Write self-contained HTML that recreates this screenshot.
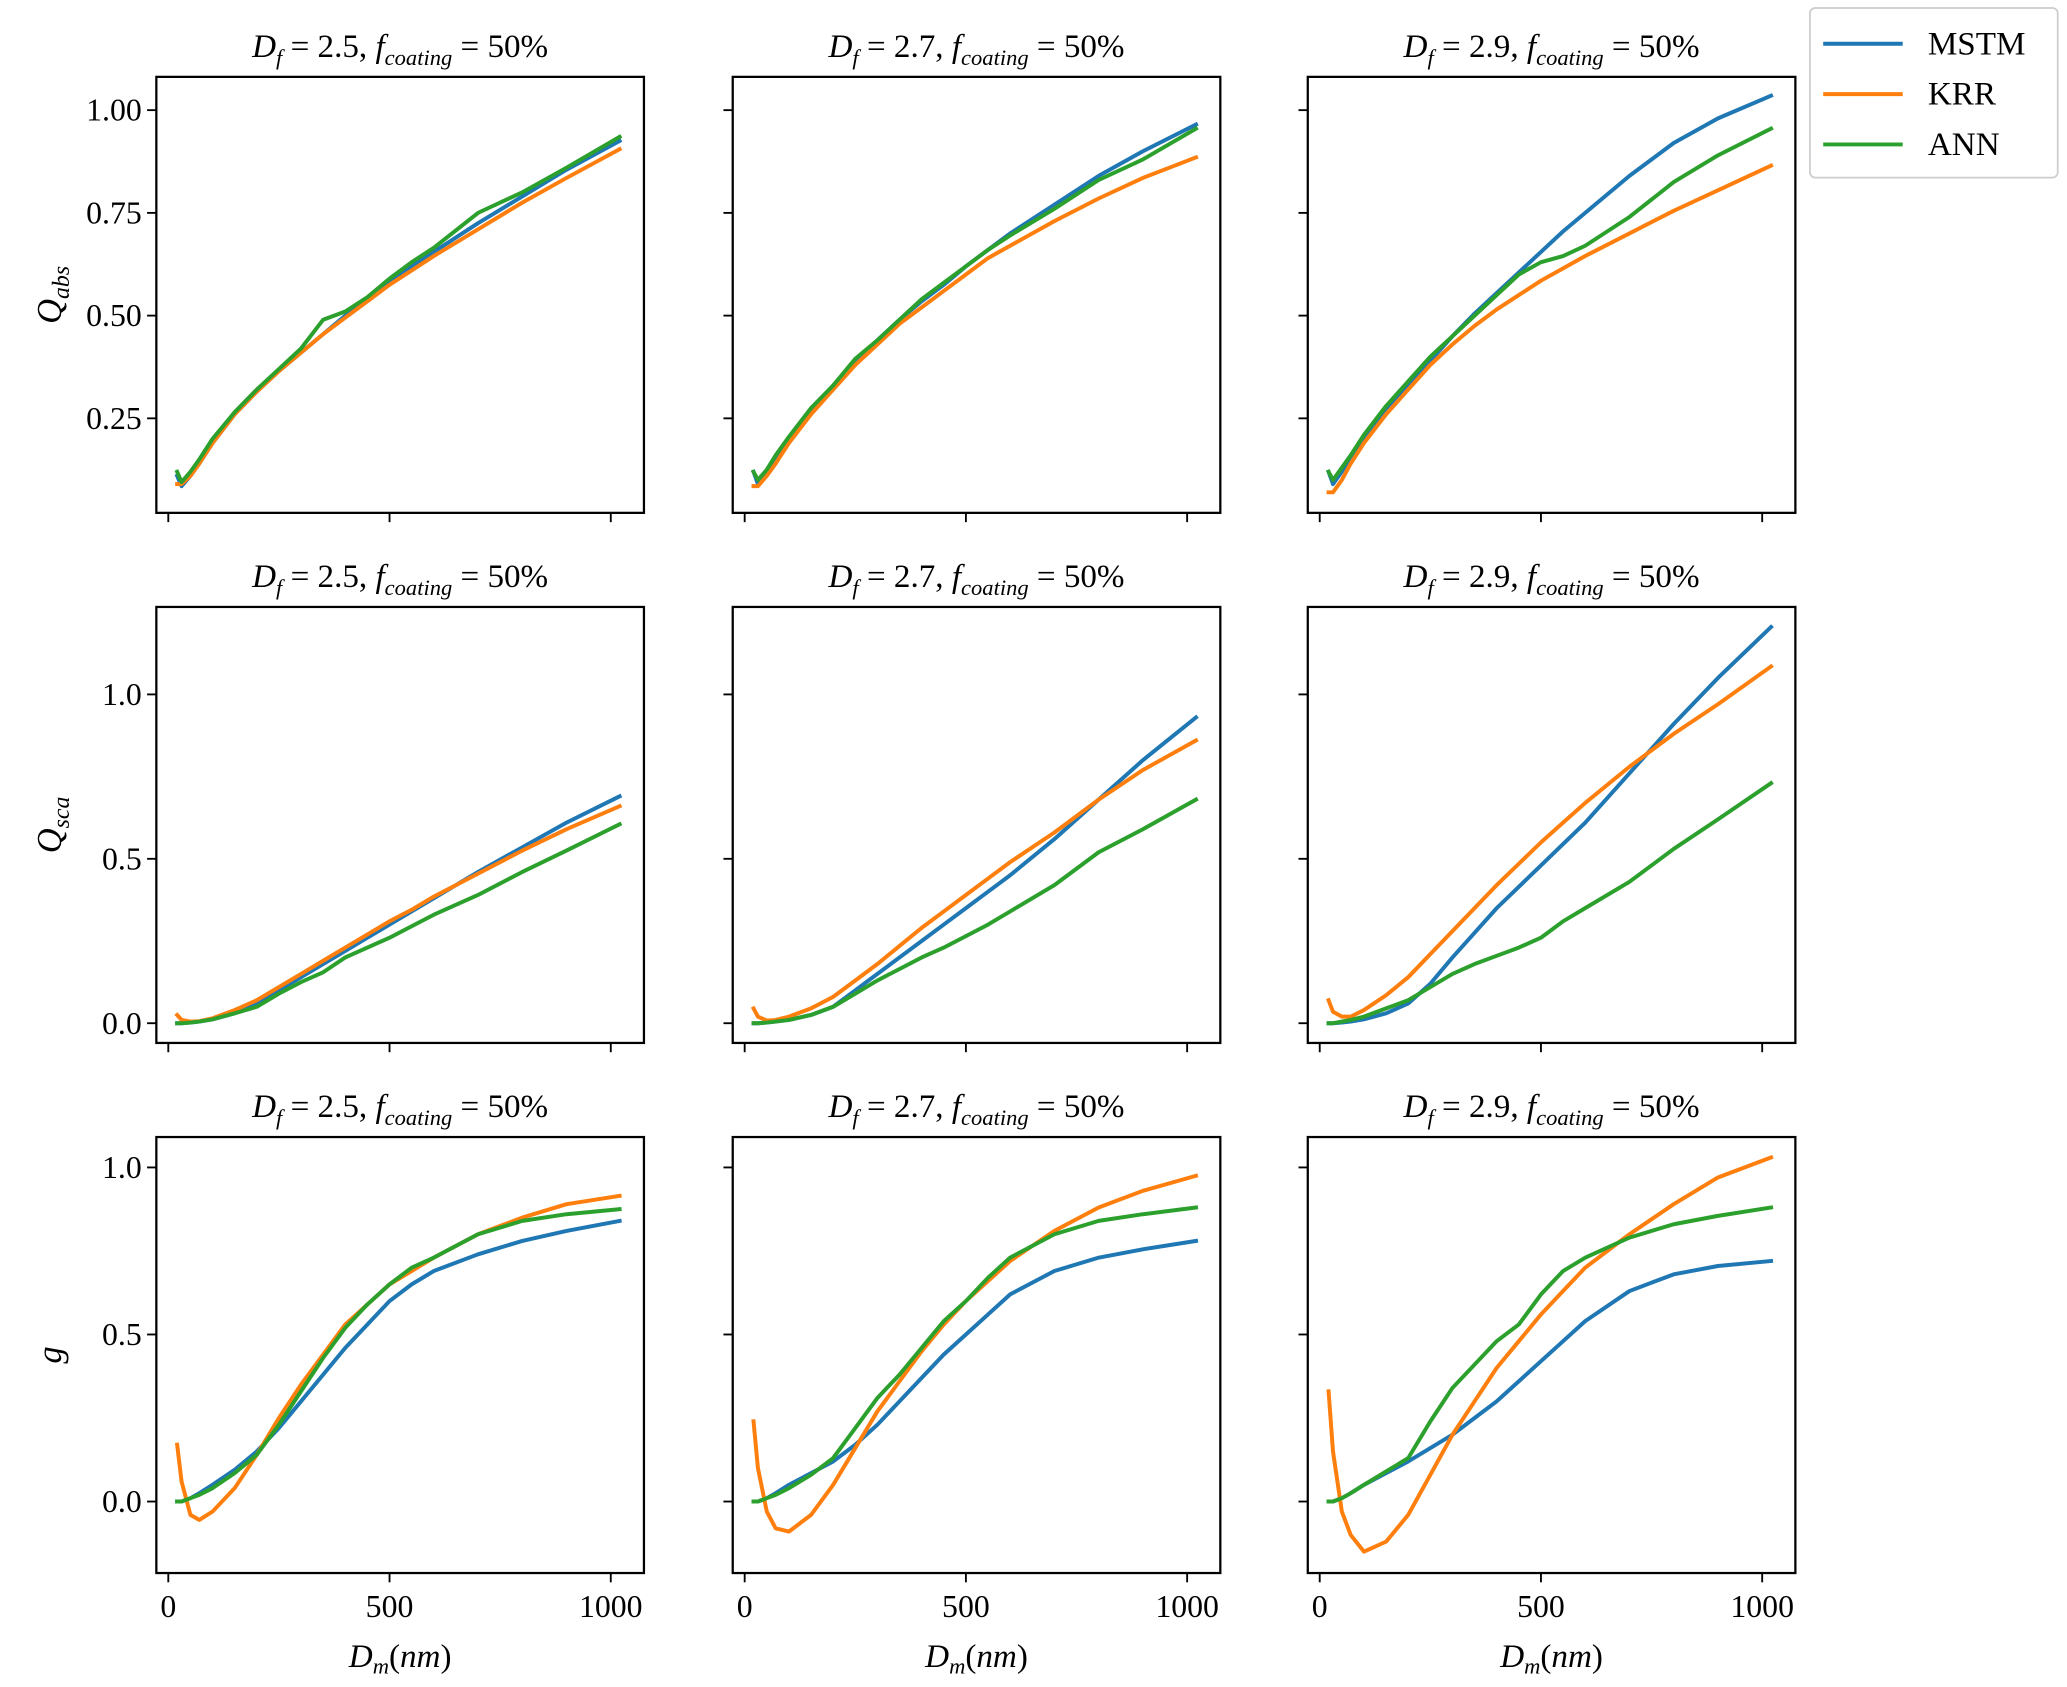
<!DOCTYPE html>
<html><head><meta charset="utf-8"><style>
html,body{margin:0;padding:0;background:#fff}
svg{display:block}
text{font-family:"Liberation Serif",serif;fill:#000}
</style></head><body>
<svg id="fig" xmlns="http://www.w3.org/2000/svg" width="2067" height="1687" viewBox="0 0 1560 1273" preserveAspectRatio="none"></svg>
<script>
const xs = [20,30,50,70,100,150,200,250,300,350,400,450,500,550,600,700,800,900,1020];
const seriesNames = ["MSTM","KRR","ANN"];
const dfLabels = ["2.5","2.7","2.9"];
const xTicks = [0,500,1000];
const yTicksQabs = [0.25,0.5,0.75,1.0];
const yTickLabelsQabs = ["0.25","0.50","0.75","1.00"];
const yTicksQsca = [0,0.5,1.0];
const yTickLabelsQsca = ["0.0","0.5","1.0"];
const yTicksG = [0,0.5,1.0];
const yTickLabelsG = ["0.0","0.5","1.0"];
// Qabs
const qabs25_mstm=[0.11,0.085,0.11,0.14,0.19,0.26,0.315,0.365,0.41,0.455,0.5,0.54,0.58,0.62,0.655,0.725,0.79,0.855,0.925];
const qabs25_krr=[0.09,0.09,0.11,0.14,0.19,0.26,0.315,0.365,0.41,0.455,0.495,0.535,0.575,0.61,0.645,0.71,0.775,0.835,0.905];
const qabs25_ann=[0.12,0.095,0.12,0.15,0.2,0.265,0.32,0.37,0.42,0.49,0.51,0.545,0.59,0.63,0.665,0.75,0.8,0.86,0.935];
const qabs27_mstm=[0.12,0.09,0.12,0.15,0.2,0.27,0.33,0.39,0.44,0.49,0.535,0.575,0.62,0.66,0.70,0.77,0.84,0.9,0.965];
const qabs27_krr=[0.085,0.085,0.11,0.14,0.19,0.26,0.32,0.38,0.43,0.48,0.52,0.56,0.6,0.64,0.67,0.73,0.785,0.835,0.885];
const qabs27_ann=[0.12,0.1,0.125,0.16,0.205,0.275,0.33,0.395,0.44,0.49,0.54,0.58,0.62,0.66,0.695,0.76,0.83,0.88,0.955];
const qabs29_mstm=[0.12,0.09,0.12,0.155,0.205,0.27,0.33,0.39,0.45,0.505,0.555,0.605,0.655,0.705,0.75,0.84,0.92,0.98,1.035];
const qabs29_krr=[0.07,0.07,0.1,0.14,0.19,0.26,0.32,0.38,0.43,0.475,0.515,0.55,0.585,0.615,0.645,0.7,0.755,0.805,0.865];
const qabs29_ann=[0.12,0.1,0.13,0.16,0.21,0.28,0.34,0.4,0.45,0.5,0.55,0.6,0.63,0.645,0.67,0.74,0.825,0.89,0.955];
// Qsca
const qsca25_mstm=[0,0,0.002,0.005,0.012,0.03,0.06,0.1,0.14,0.18,0.22,0.26,0.3,0.34,0.38,0.46,0.535,0.61,0.69];
const qsca25_krr=[0.025,0.01,0.005,0.006,0.015,0.04,0.07,0.11,0.15,0.19,0.23,0.27,0.31,0.345,0.385,0.455,0.525,0.59,0.66];
const qsca25_ann=[0,0,0.002,0.005,0.012,0.03,0.05,0.09,0.125,0.155,0.2,0.23,0.26,0.295,0.33,0.39,0.46,0.525,0.605];
const qsca27_mstm=[0,0,0.002,0.005,0.01,0.025,0.05,0.1,0.15,0.2,0.25,0.3,0.35,0.4,0.45,0.56,0.68,0.8,0.93];
const qsca27_krr=[0.045,0.02,0.008,0.01,0.02,0.045,0.08,0.13,0.18,0.235,0.29,0.34,0.39,0.44,0.49,0.58,0.68,0.77,0.86];
const qsca27_ann=[0,0,0.002,0.005,0.01,0.025,0.05,0.09,0.13,0.165,0.2,0.23,0.265,0.3,0.34,0.42,0.52,0.59,0.68];
const qsca29_mstm=[0,0,0.002,0.005,0.012,0.03,0.06,0.12,0.2,0.275,0.35,0.415,0.48,0.545,0.61,0.76,0.91,1.05,1.205];
const qsca29_krr=[0.07,0.035,0.02,0.02,0.04,0.085,0.14,0.21,0.28,0.35,0.42,0.485,0.55,0.61,0.67,0.78,0.88,0.97,1.085];
const qsca29_ann=[0,0,0.005,0.01,0.02,0.045,0.07,0.11,0.15,0.18,0.205,0.23,0.26,0.31,0.35,0.43,0.53,0.62,0.73];
// g
const g25_mstm=[0,0,0.01,0.025,0.05,0.095,0.15,0.22,0.3,0.38,0.46,0.53,0.6,0.65,0.69,0.74,0.78,0.81,0.84];
const g25_krr=[0.17,0.06,-0.04,-0.055,-0.03,0.04,0.14,0.25,0.35,0.44,0.53,0.59,0.65,0.69,0.73,0.8,0.85,0.89,0.915];
const g25_ann=[0,0,0.01,0.02,0.04,0.085,0.14,0.23,0.33,0.43,0.52,0.59,0.65,0.7,0.73,0.8,0.84,0.86,0.875];
const g27_mstm=[0,0,0.01,0.025,0.05,0.085,0.12,0.17,0.23,0.3,0.37,0.44,0.5,0.56,0.62,0.69,0.73,0.755,0.78];
const g27_krr=[0.24,0.1,-0.03,-0.08,-0.09,-0.04,0.05,0.16,0.27,0.36,0.45,0.53,0.6,0.66,0.72,0.81,0.88,0.93,0.975];
const g27_ann=[0,0,0.01,0.02,0.04,0.08,0.13,0.22,0.31,0.38,0.46,0.54,0.6,0.67,0.73,0.8,0.84,0.86,0.88];
const g29_mstm=[0,0,0.01,0.025,0.05,0.085,0.12,0.16,0.2,0.25,0.3,0.36,0.42,0.48,0.54,0.63,0.68,0.705,0.72];
const g29_krr=[0.33,0.15,-0.03,-0.1,-0.15,-0.12,-0.04,0.08,0.2,0.3,0.4,0.48,0.56,0.63,0.7,0.8,0.89,0.97,1.03];
const g29_ann=[0,0,0.01,0.025,0.05,0.09,0.13,0.24,0.34,0.41,0.48,0.53,0.62,0.69,0.73,0.79,0.83,0.855,0.88];

const NS="http://www.w3.org/2000/svg";
const svg=document.getElementById('fig');
const colors=["#1f77b4","#ff7f0e","#2ca02c"];
const colX=[118,553,987], W=368;
const rowY=[58,458,858], H=329;
const xlim=[-27,1075];
const rows=[
 {key:"qabs",ylim:[0.02,1.081],ticks:yTicksQabs,labels:yTickLabelsQabs,data:[[qabs25_mstm,qabs25_krr,qabs25_ann],[qabs27_mstm,qabs27_krr,qabs27_ann],[qabs29_mstm,qabs29_krr,qabs29_ann]],yl:["Q","abs"]},
 {key:"qsca",ylim:[-0.06,1.266],ticks:yTicksQsca,labels:yTickLabelsQsca,data:[[qsca25_mstm,qsca25_krr,qsca25_ann],[qsca27_mstm,qsca27_krr,qsca27_ann],[qsca29_mstm,qsca29_krr,qsca29_ann]],yl:["Q","sca"]},
 {key:"g",ylim:[-0.214,1.091],ticks:yTicksG,labels:yTickLabelsG,data:[[g25_mstm,g25_krr,g25_ann],[g27_mstm,g27_krr,g27_ann],[g29_mstm,g29_krr,g29_ann]],yl:["g",""]}
];
function mk(tag,attrs,parent){const e=document.createElementNS(NS,tag);for(const k in attrs)e.setAttribute(k,attrs[k]);(parent||svg).appendChild(e);return e;}
function title(g,cx,y,df){
 const t=mk('text',{x:cx,y:y,'text-anchor':'middle','font-size':25},g);
 t.innerHTML='<tspan font-style="italic">D</tspan><tspan font-style="italic" font-size="17" dy="6">f</tspan><tspan dy="-6"> = '+df+', </tspan><tspan font-style="italic">f</tspan><tspan font-style="italic" font-size="17" dy="6">coating</tspan><tspan dy="-6"> = 50%</tspan>';
 
 
}
rows.forEach((row,ri)=>{
 const y0=rowY[ri];
 const sy=v=>y0+H-(v-row.ylim[0])/(row.ylim[1]-row.ylim[0])*H;
 for(let ci=0;ci<3;ci++){
  const x0=colX[ci];
  const sx=v=>x0+(v-xlim[0])/(xlim[1]-xlim[0])*W;
  const g=mk('g',{});
  
  
  const cp='cp'+ri+ci;
  const c=mk('clipPath',{id:cp},g); mk('rect',{x:x0,y:y0,width:W,height:H},c);
  row.data[ci].forEach((arr,si)=>{
   const pts=xs.map((x,i)=>sx(x).toFixed(2)+','+sy(arr[i]).toFixed(2)).join(' ');
   const p=mk('polyline',{points:pts,fill:'none',stroke:colors[si],'stroke-width':3,'stroke-linejoin':'round','stroke-linecap':'square','clip-path':'url(#'+cp+')'},g);
   
   
  });
  const fr=mk('rect',{x:x0,y:y0,width:W,height:H,fill:'none',stroke:'#000','stroke-width':1.7},g);
  
  
  xTicks.forEach(t=>{
   const X=sx(t);
   mk('line',{x1:X,x2:X,y1:y0+H,y2:y0+H+7,stroke:'#000','stroke-width':1.4},g);
   if(ri===2){const tl=mk('text',{x:X,y:y0+H+33,'text-anchor':'middle','font-size':24},g);tl.textContent=t;
    
    }
  });
  row.ticks.forEach((t,i)=>{
   const Y=sy(t);
   mk('line',{x1:x0-7,x2:x0,y1:Y,y2:Y,stroke:'#000','stroke-width':1.4},g);
   if(ci===0){const tl=mk('text',{x:x0-11,y:Y+8,'text-anchor':'end','font-size':24},g);tl.textContent=row.labels[i];
    
    }
  });
  title(g,x0+W/2,y0-15,dfLabels[ci]);
  if(ri===2){
   const xl=mk('text',{x:x0+W/2,y:1258,'text-anchor':'middle','font-size':25},g);
   xl.innerHTML='<tspan font-style="italic">D</tspan><tspan font-style="italic" font-size="17" dy="5">m</tspan><tspan dy="-5">(</tspan><tspan font-style="italic">nm</tspan>)';
   
   
  }
 }
 const cy=y0+H/2;
 const yl=mk('text',{x:0,y:0,'text-anchor':'middle','font-size':26,transform:'translate(46,'+cy+') rotate(-90)'});
 yl.innerHTML='<tspan font-style="italic">'+row.yl[0]+'</tspan>'+(row.yl[1]?'<tspan font-style="italic" font-size="18" dy="6">'+row.yl[1]+'</tspan>':'');
 
 
});
// legend
const lg=mk('g',{});


mk('rect',{x:1366,y:6,width:187,height:128,rx:4,fill:'#fff',stroke:'#ccc','stroke-width':1.3},lg);
seriesNames.forEach((n,i)=>{
 const y=33+i*38;
 const e=mk('g',{},lg);
 
 
 mk('line',{x1:1376,x2:1436,y1:y,y2:y,stroke:colors[i],'stroke-width':3},e);
 const t=mk('text',{x:1455,y:y+8,'font-size':25},e); t.textContent=n;
});
</script>
</body></html>
